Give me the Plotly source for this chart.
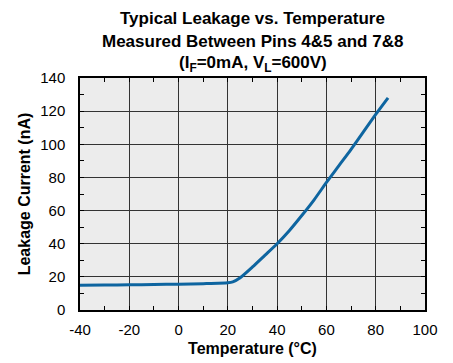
import plotly.graph_objects as go

temperature_c = [-40, -30, -20, -10, 0, 10, 20, 22, 25, 30, 35, 40, 45, 50, 55, 60, 65, 70, 75, 80, 85]
leakage_na = [15.0, 15.1, 15.2, 15.4, 15.6, 15.9, 16.4, 17.0, 19.5, 26.0, 33.0, 40.0, 48.0, 57.0, 66.5, 77.0, 87.0, 97.0, 107.5, 118.0, 128.0]

x_ticks = [-40, -20, 0, 20, 40, 60, 80, 100]
y_ticks = [0, 20, 40, 60, 80, 100, 120, 140]

title_lines = [
    "<b>Typical Leakage vs. Temperature</b>",
    "<b>Measured Between Pins 4&amp;5 and 7&amp;8</b>",
    "<b>(I<sub>F</sub>=0mA, V<sub>L</sub>=600V)</b>",
]

fig = go.Figure()
fig.add_trace(go.Scatter(
    x=temperature_c, y=leakage_na, mode="lines",
    line=dict(color="#0e65a0", width=3, shape="spline", smoothing=0.6),
    hoverinfo="skip",
))

font_family = "Liberation Sans, Arial, sans-serif"

axis_common = dict(
    showgrid=True, gridcolor="#333333", gridwidth=1,
    showline=True, linecolor="#000000", linewidth=1.5, mirror="ticks",
    ticks="inside", ticklen=4, tickcolor="#000000",
    zeroline=False, automargin=False,
    tickfont=dict(family=font_family, size=15, color="#000000"),
    minor=dict(ticks="inside", ticklen=4, tickcolor="#000000", showgrid=False, dtick=10),
)

fig.update_layout(
    width=453, height=363,
    margin=dict(l=80, r=28, t=78, b=53),
    paper_bgcolor="#ffffff", plot_bgcolor="#ececec",
    showlegend=False,
    xaxis=dict(range=[-40, 100], tickvals=x_ticks, ticktext=[str(v) for v in x_ticks],
               ticklabelstandoff=5,
               title=dict(text="<b>Temperature (°C)</b>", font=dict(family=font_family, size=16, color="#000"), standoff=6),
               **axis_common),
    yaxis=dict(range=[0, 140], tickvals=y_ticks, ticktext=[str(v) for v in y_ticks],
               ticklabelstandoff=10,
               title=dict(text="<b>Leakage Current (nA)</b>", font=dict(family=font_family, size=16, color="#000"), standoff=6),
               **axis_common),
)

title_y = [18, 41, 64]
for txt, yy in zip(title_lines, title_y):
    fig.add_annotation(
        xref="paper", yref="paper", x=0.5, y=1.0, yshift=78 - yy, yanchor="middle", showarrow=False,
        text=txt, font=dict(family=font_family, size=17, color="#000"), align="center",
    )

fig.write_html("out.html")
